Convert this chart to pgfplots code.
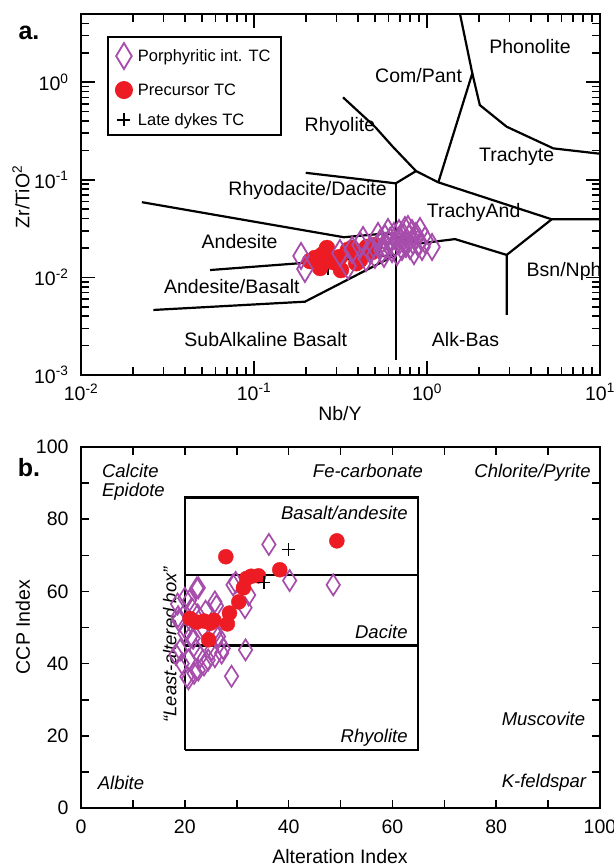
\documentclass[border=0pt]{standalone}
\usepackage{pgfplots}
\pgfplotsset{compat=1.18}
\usepackage{fontspec}
\setmainfont{Liberation Sans}
\definecolor{pred}{RGB}{237,28,36}
\definecolor{ppur}{RGB}{166,76,170}
\newcommand{\fs}[1]{\fontsize{#1}{#1}\selectfont}
\begin{document}
\begin{tikzpicture}
\pgfplotsset{
  myframe/.style={scale only axis, width=519pt, height=361pt,
    axis line style={line width=2.3pt},
    every tick/.style={line width=1.6pt, black},
    tick align=inside, ticklabel style={font=\fs{19.5}}},
  reg/.style={black, line width=2.2pt, forget plot, mark=none},
}
% ---------------- panel a ----------------
\begin{axis}[myframe, at={(81pt,-375pt)}, anchor=south west,
  xmode=log, ymode=log, xmin=0.01, xmax=10, ymin=0.001, ymax=5,
  xtick={0.01,0.1,1,10},
  xticklabels={10\textsuperscript{-2},10\textsuperscript{-1},10\textsuperscript{0},10\textsuperscript{1}},
  ytick={0.001,0.01,0.1,1},
  yticklabels={10\textsuperscript{-3},10\textsuperscript{-2},10\textsuperscript{-1},10\textsuperscript{0}},
  minor xtick={0.02,0.03,0.04,0.05,0.06,0.07,0.08,0.09,0.2,0.3,0.4,0.5,0.6,0.7,0.8,0.9,2,3,4,5,6,7,8,9},
  minor ytick={0.002,0.003,0.004,0.005,0.006,0.007,0.008,0.009,0.02,0.03,0.04,0.05,0.06,0.07,0.08,0.09,0.2,0.3,0.4,0.5,0.6,0.7,0.8,0.9,2,3,4},
  major tick length=14pt, minor tick length=8pt,
  yticklabel style={xshift=-9pt},
  xticklabel style={yshift=-5pt},
  reverse legend,
  legend cell align=left,
  legend style={at={(0.05,0.939)}, anchor=north west, font=\fs{16.5},
    draw=black, line width=2pt, row sep=12.5pt, inner xsep=8pt, inner ysep=6pt},
]
\addplot[reg] coordinates {(0.0225,0.059) (0.331,0.0258) (0.587,0.0283) (0.911,0.0223) (1.452,0.0247) (2.888,0.0170)};
\addplot[reg] coordinates {(0.0557,0.0119) (0.1766,0.0139) (0.66,0.0170)};
\addplot[reg] coordinates {(0.0262,0.00464) (0.197,0.00564) (0.66,0.0170)};
\addplot[reg] coordinates {(0.66,0.00143) (0.66,0.092)};
\addplot[reg] coordinates {(0.199,0.118) (0.66,0.092) (0.864,0.123)};
\addplot[reg] coordinates {(0.327,0.70) (0.50,0.35) (0.635,0.218) (0.864,0.123) (1.163,0.0942) (5.26,0.0394) (10,0.0394)};
\addplot[reg] coordinates {(1.163,0.0942) (1.828,1.233) (1.552,5)};
\addplot[reg] coordinates {(1.828,1.233) (2.02,0.583) (2.888,0.350) (5.37,0.210) (10,0.185)};
\addplot[reg] coordinates {(5.26,0.0394) (2.888,0.0170) (2.888,0.00412)};
% late dykes
\addplot[only marks, mark=+, mark size=6.5pt, mark options={black, line width=1.7pt}] coordinates {(0.269,0.0124) (0.36,0.0175)};
\addlegendentry{\hspace{4pt}Late dykes TC}
% precursor
\addplot[only marks, mark=*, mark size=8pt, mark options={pred, draw=pred, fill=pred}] coordinates {
(0.211,0.0147) (0.241,0.0125) (0.247,0.0170) (0.264,0.0200) (0.314,0.0162) (0.318,0.0119)
(0.349,0.0191) (0.368,0.0200) (0.410,0.0151) (0.438,0.0191) (0.450,0.0205) (0.500,0.0215)
(0.481,0.0182) (0.286,0.0144) (0.39,0.0140) (0.225,0.0158)};
\addlegendentry{\hspace{4pt}Precursor TC}
% porphyritic
\addplot[only marks, mark=diamond, mark size=13pt, mark options={ppur, line width=1.8pt, xscale=0.8}] coordinates {
(0.187,0.0166) (0.197,0.0122) (0.314,0.0178) (0.350,0.0131) (0.410,0.0215) (0.427,0.0242) (0.444,0.0158)
(0.521,0.0266) (0.535,0.0225) (0.549,0.0191) (0.572,0.0253) (0.579,0.0210) (0.595,0.0292) (0.611,0.0236)
(0.628,0.0195) (0.644,0.0266) (0.653,0.0220) (0.671,0.0182) (0.689,0.0285) (0.698,0.0242) (0.717,0.0205)
(0.736,0.0259) (0.746,0.0306) (0.756,0.0220) (0.776,0.0313) (0.787,0.0253) (0.797,0.0210) (0.819,0.0285)
(0.830,0.0236) (0.841,0.0186) (0.864,0.0266) (0.887,0.0225) (0.911,0.0299) (0.936,0.0205) (0.974,0.0242)
(1.069,0.0205) (0.500,0.0170) (0.564,0.0174) (0.468,0.0191) (0.369,0.0191)};
\addlegendentry{\hspace{4pt}Porphyritic int. TC}
\begin{scope}[font=\fs{19.5}]
\node at (axis cs:3.94,2.31) {Phonolite};
\node at (axis cs:0.894,1.16) {Com/Pant};
\node at (axis cs:0.314,0.350) {Rhyolite};
\node at (axis cs:3.30,0.173) {Trachyte};
\node at (axis cs:0.204,0.0785) {Rhyodacite/Dacite};
\node at (axis cs:1.86,0.0465) {TrachyAnd};
\node at (axis cs:0.0826,0.0232) {Andesite};
\node at (axis cs:0.0745,0.00804) {Andesite/Basalt};
\node at (axis cs:6.2,0.01143) {Bsn/Nph};
\node at (axis cs:0.117,0.00232) {SubAlkaline Basalt};
\node at (axis cs:1.67,0.00232) {Alk-Bas};
\end{scope}
\end{axis}
\node[font=\fs{19.5}] at (21pt,-197pt) [rotate=90] {Zr/TiO\textsuperscript{2}};
\node[font=\fs{19.5}] at (340pt,-414pt) {Nb/Y};
\node[font=\bfseries\fs{25}] at (29pt,-33pt) {a.};
% ---------------- panel b ----------------
\begin{axis}[myframe, at={(81pt,-808pt)}, anchor=south west,
  xmin=0, xmax=100, ymin=0, ymax=100,
  xtick={0,20,...,100}, ytick={0,20,...,100}, minor tick num=1,
  major tick length=8pt, minor tick length=8pt,
  /pgf/number format/assume math mode=true,
  yticklabel style={xshift=-9pt},
  xticklabel style={yshift=-8pt},
]
\addplot[reg] coordinates {(20,16) (65,16) (65,86) (20,86) (20,16)};
\addplot[reg] coordinates {(20,64.5) (65,64.5)};
\addplot[reg] coordinates {(20,45) (65,45)};
\addplot[only marks, mark=diamond, mark size=10.5pt, mark options={ppur, line width=1.7pt, xscale=0.85}] coordinates {
(36.2,73) (40.2,63) (48.6,61.8) (29.8,62.5) (22.6,61) (31.7,43.8) (29,36.5) (26.1,56) (31.6,55.5)
(18.6,56.5) (18.3,42.5) (20.9,57.5) (20.7,35.8) (21.8,37.3) (23.7,39.6) (27.1,42.9) (26.7,45.8)
(20.3,49.3) (21.1,47.5) (22.2,43.8) (25.2,43.8) (23,41.9) (24.5,41) (18.8,52) (22.3,60.9) (20,58.1)
(25.8,57.1) (29.3,61.8) (25.8,48.4) (21.6,47) (19.1,43.8) (20.7,41) (25.8,41.9) (27.4,44.2) (20.4,36.4)
(22.6,38.2) (18.7,53) (20,48.4) (23.5,50) (21.5,55) (24,54.5) (32.3,59) (26.5,47.5) (22.5,53.5) (19.5,40)};
\addplot[only marks, mark=*, mark size=7.5pt, mark options={pred, draw=pred, fill=pred}] coordinates {
(21,52.5) (22.3,51.5) (23.7,51.8) (24.9,51.2) (25.6,52) (24.6,46.6) (28.2,51) (28.6,54) (30.4,57.1)
(31.3,61) (31.9,63.6) (32.8,64.2) (34.2,64.3) (38.3,66) (27.9,69.6) (49.3,74)};
\addplot[only marks, mark=+, mark size=6.5pt, mark options={black, line width=1.7pt}] coordinates {(40,71.6) (35.2,62.5)};
\begin{scope}[font=\itshape\fs{18.5}]
\node at (axis cs:9.5,93.5) {Calcite};
\node at (axis cs:10.1,87.6) {Epidote};
\node at (axis cs:55.3,93.5) {Fe-carbonate};
\node at (axis cs:87,92.8) {Chlorite/Pyrite};
\node[anchor=east] at (axis cs:63.6,81.8) {Basalt/andesite};
\node[anchor=east] at (axis cs:63.6,48.8) {Dacite};
\node[anchor=east] at (axis cs:63.6,19.6) {Rhyolite};
\node at (axis cs:89.1,24.6) {Muscovite};
\node at (axis cs:7.7,6.9) {Albite};
\node at (axis cs:89.2,6.9) {K-feldspar};
\node[rotate=90] at (axis cs:17.1,45.2) {“Least-altered box”};
\end{scope}
\end{axis}
\node[font=\fs{19.5}] at (23pt,-627pt) [rotate=90] {CCP Index};
\node[font=\fs{19.5}] at (340pt,-857pt) {Alteration Index};
\node[font=\bfseries\fs{25}] at (29pt,-468pt) {b.};
\pgfresetboundingbox
\path[use as bounding box] (0pt,0pt) rectangle (613pt,-867pt);
\end{tikzpicture}
\end{document}
